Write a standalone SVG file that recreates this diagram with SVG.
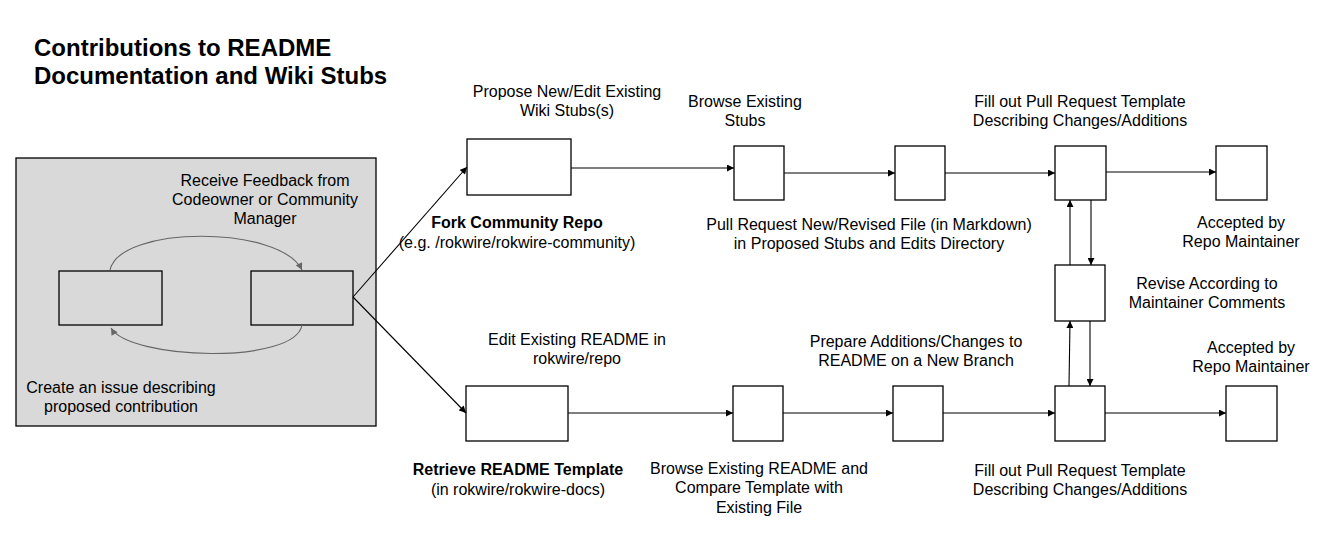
<svg xmlns="http://www.w3.org/2000/svg" width="1344" height="540" viewBox="0 0 1344 540">
<defs>
<style>
.box{fill:#fff;stroke:#000;stroke-width:1.3}
.ib{fill:#d9d9d9;stroke:#000;stroke-width:1.3}
.t{font-family:"Liberation Sans",Arial,sans-serif;font-size:16px;fill:#000;text-anchor:middle}
.b{font-weight:bold}
.c{fill:none;stroke:#000;stroke-width:1.1}
.g{fill:none;stroke:#666;stroke-width:1.1}
</style>
<marker id="a" viewBox="0 0 10 10" refX="10" refY="5" markerWidth="8" markerHeight="7" markerUnits="userSpaceOnUse" orient="auto"><path d="M0,0L10,5L0,10z" fill="#000"/></marker>
<marker id="ag" viewBox="0 0 10 10" refX="10" refY="5" markerWidth="8" markerHeight="7" markerUnits="userSpaceOnUse" orient="auto"><path d="M0,0L10,5L0,10z" fill="#666"/></marker>
</defs>
<rect width="1344" height="540" fill="#fff"/>
<g id="title"><text class="t b" style="font-size:24px;text-anchor:start" x="34" y="56">Contributions to README</text><text class="t b" style="font-size:24px;text-anchor:start" x="34" y="84">Documentation and Wiki Stubs</text></g>
<g id="container"><rect x="16" y="158" width="360" height="268" fill="#d9d9d9" stroke="#000" stroke-width="1.3"/>
<text class="t" x="265" y="186">Receive Feedback from</text><text class="t" x="265" y="205">Codeowner or Community</text><text class="t" x="265" y="224">Manager</text>
<text class="t" x="121" y="393">Create an issue describing</text><text class="t" x="121" y="412">proposed contribution</text></g>
<g id="issue"><rect class="ib" x="59" y="271" width="103" height="54"/></g>
<g id="feedback"><rect class="ib" x="251" y="271" width="102" height="54"/></g>
<g id="fork"><rect class="box" x="467" y="139" width="104" height="56"/>
<text class="t" x="567" y="97">Propose New/Edit Existing</text><text class="t" x="567" y="116">Wiki Stubs(s)</text>
<text class="t b" x="517" y="228">Fork Community Repo</text><text class="t" x="517" y="248">(e.g. /rokwire/rokwire-community)</text></g>
<g id="browse-stubs"><rect class="box" x="734" y="146" width="50" height="54"/>
<text class="t" x="745" y="107">Browse Existing</text><text class="t" x="745" y="126">Stubs</text></g>
<g id="pr-file"><rect class="box" x="895" y="146" width="50" height="54"/>
<text class="t" x="869" y="230">Pull Request New/Revised File (in Markdown)</text><text class="t" x="869" y="249">in Proposed Stubs and Edits Directory</text></g>
<g id="pr-template-top"><rect class="box" x="1055" y="146" width="51" height="54"/>
<text class="t" x="1080" y="107">Fill out Pull Request Template</text><text class="t" x="1080" y="126">Describing Changes/Additions</text></g>
<g id="accepted-top"><rect class="box" x="1216" y="146" width="51" height="54"/>
<text class="t" x="1241" y="228">Accepted by</text><text class="t" x="1241" y="247">Repo Maintainer</text></g>
<g id="revise"><rect class="box" x="1055" y="265" width="50" height="56"/>
<text class="t" x="1207" y="289">Revise According to</text><text class="t" x="1207" y="308">Maintainer Comments</text></g>
<g id="retrieve"><rect class="box" x="466" y="386" width="102" height="55"/>
<text class="t" x="577" y="345">Edit Existing README in</text><text class="t" x="577" y="364">rokwire/repo</text>
<text class="t b" x="518" y="475">Retrieve README Template</text><text class="t" x="518" y="495">(in rokwire/rokwire-docs)</text></g>
<g id="browse-readme"><rect class="box" x="733" y="386" width="50" height="55"/>
<text class="t" x="759" y="474">Browse Existing README and</text><text class="t" x="759" y="493">Compare Template with</text><text class="t" x="759" y="513">Existing File</text></g>
<g id="prepare"><rect class="box" x="893" y="386" width="50" height="55"/>
<text class="t" x="916" y="347">Prepare Additions/Changes to</text><text class="t" x="916" y="366">README on a New Branch</text></g>
<g id="pr-template-bottom"><rect class="box" x="1055" y="386" width="50" height="55"/>
<text class="t" x="1080" y="476">Fill out Pull Request Template</text><text class="t" x="1080" y="495">Describing Changes/Additions</text></g>
<g id="accepted-bottom"><rect class="box" x="1226" y="386" width="51" height="55"/>
<text class="t" x="1251" y="353">Accepted by</text><text class="t" x="1251" y="372">Repo Maintainer</text></g>
<g id="connectors">
<path class="g" d="M110,270 C120,225 280,225 302,270" marker-end="url(#ag)"/>
<path class="g" d="M302,325 C295,365 130,360 111,328" marker-end="url(#ag)"/>
<path class="c" d="M353,297 L467,167" marker-end="url(#a)"/>
<path class="c" d="M353,297 L466,413" marker-end="url(#a)"/>
<path class="c" d="M571,168 L734,168" marker-end="url(#a)"/>
<path class="c" d="M784,173 L895,173" marker-end="url(#a)"/>
<path class="c" d="M945,173 L1055,173" marker-end="url(#a)"/>
<path class="c" d="M1106,172 L1216,172" marker-end="url(#a)"/>
<path class="c" d="M1070,265 L1070,200" marker-end="url(#a)"/>
<path class="c" d="M1091,200 L1091,265" marker-end="url(#a)"/>
<path class="c" d="M1069,386 L1070,321" marker-end="url(#a)"/>
<path class="c" d="M1090,321 L1090,386" marker-end="url(#a)"/>
<path class="c" d="M568,413 L733,413" marker-end="url(#a)"/>
<path class="c" d="M783,413 L893,413" marker-end="url(#a)"/>
<path class="c" d="M943,413 L1055,413" marker-end="url(#a)"/>
<path class="c" d="M1105,413 L1226,413" marker-end="url(#a)"/>
</g>
</svg>
